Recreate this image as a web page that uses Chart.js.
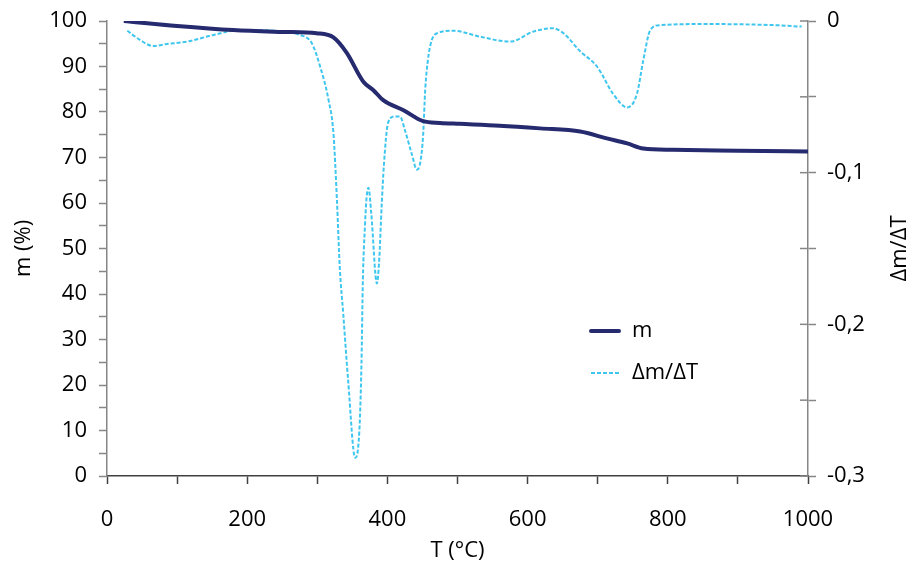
<!DOCTYPE html>
<html>
<head>
<meta charset="utf-8">
<script src="https://cdn.jsdelivr.net/npm/chart.js@4/dist/chart.umd.min.js"></script>
<style>
  html, body { margin: 0; padding: 0; background: #fff; }
  #wrap { width: 914px; height: 564px; }
</style>
</head>
<body>
<div id="wrap"><canvas id="tga"></canvas></div>
<script>
// TGA curve: mass (left axis) and derivative (right axis) vs temperature.
var massT = [24, 100, 180, 250, 299, 323, 342, 366, 380, 394, 423, 451, 475, 503, 560, 618, 675, 713, 742, 765, 807, 900, 1000];
var massM = [100, 98.9, 98.0, 97.6, 97.3, 96.4, 93.0, 86.6, 84.8, 82.6, 80.4, 78.0, 77.6, 77.4, 77.0, 76.4, 75.7, 74.2, 73.1, 72.0, 71.7, 71.5, 71.3];

var dtgT = [29, 47, 66, 85, 114, 152, 190, 237, 275, 292, 304, 316, 323, 328, 332, 337, 344, 354, 360, 363, 365, 368, 370, 373, 377, 385, 388, 392, 395, 401, 410, 418, 425, 435, 442, 447, 451, 454, 458, 463, 471, 494, 532, 575, 608, 636, 651, 675, 699, 722, 742, 756, 765, 775, 789, 856, 950, 991];
var dtgV = [-0.0064, -0.0125, -0.0165, -0.0152, -0.0136, -0.0092, -0.0059, -0.0064, -0.0092, -0.0145, -0.030, -0.052, -0.074, -0.118, -0.162, -0.193, -0.237, -0.288, -0.270, -0.226, -0.171, -0.135, -0.118, -0.110, -0.127, -0.173, -0.160, -0.120, -0.095, -0.067, -0.063, -0.063, -0.072, -0.088, -0.098, -0.093, -0.075, -0.045, -0.025, -0.013, -0.008, -0.0064, -0.0103, -0.0136, -0.007, -0.0048, -0.008, -0.020, -0.030, -0.048, -0.057, -0.048, -0.026, -0.006, -0.0027, -0.002, -0.0027, -0.0037];

var seriesNames = ['m', '\u0394m/\u0394T'];
var axisTitles = { x: 'T (\u00b0C)', y: 'm (%)', y2: '\u0394m/\u0394T' };

var FONT = "'Open Sans', sans-serif";
var FSIZE = 22;
var NAVY = '#262a6e';
var CYAN = '#3ec6ef';
var AXIS_GREY = '#868686';

function pts(xs, ys) {
  return xs.map(function (x, i) { return { x: x, y: ys[i] }; });
}

// fixed axis widths; drop the label overhang padding so the plot top sits at 21px
function fixWidth(w) {
  return function (s) {
    s.width = w;
    s.paddingTop = 0;
    s.paddingBottom = 0;
  };
}

// draws the inner half of the right-axis ticks, the right title and the legend
var extras = {
  id: 'extras',
  afterDraw: function (chart) {
    var ctx = chart.ctx;
    var s = chart.scales.y2;
    ctx.save();
    ctx.strokeStyle = AXIS_GREY;
    ctx.lineWidth = 1.5;
    s.ticks.forEach(function (t) {
      var y = s.getPixelForValue(t.value);
      ctx.beginPath();
      ctx.moveTo(s.left - 8, y);
      ctx.lineTo(s.left, y);
      ctx.stroke();
    });

    // right title reads bottom-to-top
    ctx.fillStyle = '#000';
    ctx.font = FSIZE + 'px ' + FONT;
    ctx.textAlign = 'center';
    ctx.textBaseline = 'middle';
    ctx.translate(900, (chart.chartArea.top + chart.chartArea.bottom) / 2);
    ctx.rotate(-Math.PI / 2);
    ctx.fillText(axisTitles.y2, 0, 0);
    ctx.restore();

    // legend
    ctx.save();
    ctx.font = FSIZE + 'px ' + FONT;
    ctx.textAlign = 'left';
    ctx.textBaseline = 'middle';
    ctx.fillStyle = '#000';
    chart.data.datasets.forEach(function (ds, i) {
      var y = 331 + i * 42;
      ctx.strokeStyle = ds.borderColor;
      ctx.lineWidth = ds.borderWidth;
      ctx.setLineDash(ds.borderDash || []);
      ctx.lineCap = ds.borderDash ? 'butt' : 'round';
      ctx.beginPath();
      ctx.moveTo(591, y);
      ctx.lineTo(619, y);
      ctx.stroke();
      ctx.setLineDash([]);
      ctx.fillText(ds.label, 632, y);
    });
    ctx.restore();
  }
};

new Chart(document.getElementById('tga'), {
  type: 'line',
  data: {
    datasets: [
      {
        label: seriesNames[0],
        data: pts(massT, massM),
        yAxisID: 'y',
        borderColor: NAVY,
        borderWidth: 4,
        pointRadius: 0,
        cubicInterpolationMode: 'monotone',
        order: 1
      },
      {
        label: seriesNames[1],
        data: pts(dtgT, dtgV),
        yAxisID: 'y2',
        borderColor: CYAN,
        borderWidth: 2,
        borderDash: [4, 2],
        pointRadius: 0,
        cubicInterpolationMode: 'monotone',
        order: 2
      }
    ]
  },
  options: {
    responsive: true,
    maintainAspectRatio: false,
    animation: false,
    layout: { padding: { top: 21, left: 0, right: 0, bottom: 0 } },
    plugins: { legend: { display: false }, tooltip: { enabled: false } },
    scales: {
      x: {
        type: 'linear', min: 0, max: 1000,
        afterFit: function (s) { s.height = 88; },
        ticks: {
          stepSize: 100, autoSkip: false, maxRotation: 0, padding: 23,
          color: '#000', font: { family: FONT, size: FSIZE },
          callback: function (v) { return v % 200 === 0 ? String(v) : ''; }
        },
        grid: { drawOnChartArea: false, tickLength: 8, tickColor: '#404040', tickWidth: 1.5 },
        border: { color: '#404040', width: 1.5 },
        title: { display: true, text: axisTitles.x, color: '#000', font: { family: FONT, size: FSIZE }, padding: { top: 4, bottom: 0 } }
      },
      y: {
        position: 'left', min: 0, max: 100,
        afterFit: fixWidth(107),
        ticks: {
          stepSize: 5, autoSkip: false, padding: 12,
          color: '#000', font: { family: FONT, size: FSIZE },
          callback: function (v) { return v % 10 === 0 ? String(v) : ''; }
        },
        grid: { drawOnChartArea: false, tickLength: 8, tickColor: AXIS_GREY, tickWidth: 1.5 },
        border: { color: AXIS_GREY, width: 1.5 },
        title: { display: true, text: axisTitles.y, color: '#000', font: { family: FONT, size: FSIZE }, padding: { top: 11, bottom: 0 } }
      },
      y2: {
        position: 'right', min: -0.3, max: 0,
        afterFit: fixWidth(106),
        ticks: {
          stepSize: 0.05, autoSkip: false, padding: 11,
          color: '#000', font: { family: FONT, size: FSIZE },
          callback: function (v) {
            var k = Math.round(v * 100);
            if (k % 10 !== 0) return '';
            return k === 0 ? '0' : (k / 100).toFixed(1).replace('.', ',');
          }
        },
        grid: { drawOnChartArea: false, tickLength: 8, tickColor: AXIS_GREY, tickWidth: 1.5 },
        border: { color: AXIS_GREY, width: 1.5 }
      }
    }
  },
  plugins: [extras]
});
</script>
</body>
</html>
